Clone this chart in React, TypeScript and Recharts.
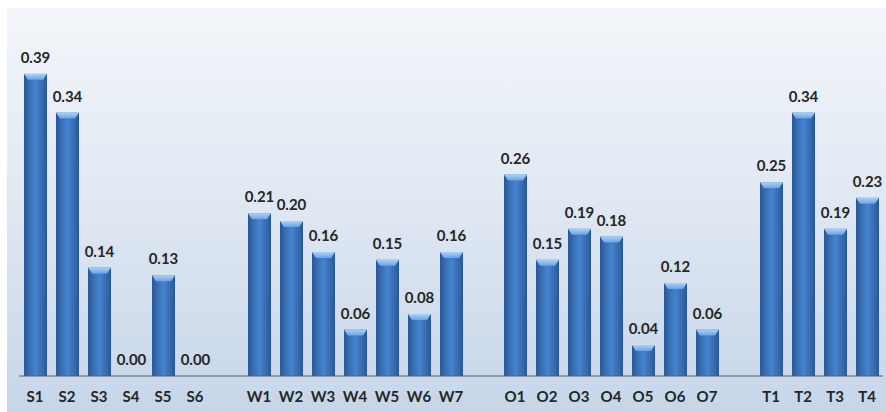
import React from "react";
import { BarChart, Bar, XAxis, YAxis, LabelList } from "recharts";

const sCats = ["S1", "S2", "S3", "S4", "S5", "S6"];
const sVals = [0.39, 0.34, 0.14, 0.0, 0.13, 0.0];
const wCats = ["W1", "W2", "W3", "W4", "W5", "W6", "W7"];
const wVals = [0.21, 0.2, 0.16, 0.06, 0.15, 0.08, 0.16];
const oCats = ["O1", "O2", "O3", "O4", "O5", "O6", "O7"];
const oVals = [0.26, 0.15, 0.19, 0.18, 0.04, 0.12, 0.06];
const tCats = ["T1", "T2", "T3", "T4"];
const tVals = [0.25, 0.34, 0.19, 0.23];

const groups = [
  { cats: sCats, vals: sVals },
  { cats: wCats, vals: wVals },
  { cats: oCats, vals: oVals },
  { cats: tCats, vals: tVals },
];

// one empty slot between groups
const data: { key: string; name: string; value: number | null }[] = [];
groups.forEach((g, gi) => {
  if (gi > 0) data.push({ key: `gap${gi}`, name: "", value: null });
  g.cats.forEach((c, i) => data.push({ key: c, name: c, value: g.vals[i] }));
});

const FONT = "Lato, 'Open Sans', sans-serif";

const CylBar = (props: any) => {
  const { x, y, width, height } = props;
  if (height == null || height <= 0) return null;
  const bev = Math.min(6, height);
  return (
    <g>
      <rect x={x} y={y} width={width} height={height} fill="url(#barBody)" />
      <polygon
        points={`${x},${y} ${x + width},${y} ${x + width - 4},${y + bev} ${x + 4},${y + bev}`}
        fill="url(#barTop)"
      />
    </g>
  );
};

const tickLabel = (props: any) => {
  const { x, y, index } = props;
  return (
    <text
      x={x}
      y={y + 18}
      textAnchor="middle"
      fontFamily={FONT}
      fontWeight={700}
      fontSize={15}
      fill="#262626"
    >
      {data[index]?.name ?? ""}
    </text>
  );
};

export default function App() {
  return (
    <div
      style={{
        position: "absolute",
        left: 0,
        top: 0,
        width: 886,
        height: 412,
        background: "#ffffff",
      }}
    >
      <div
        style={{
          position: "absolute",
          left: 7,
          top: 8,
          width: 879,
          height: 404,
          background: "linear-gradient(to bottom, #f3f6fa 0%, #e1e9f3 45%, #c6d6e9 100%)",
        }}
      />
      <BarChart
        width={886}
        height={412}
        data={data}
        margin={{ top: 8, right: 3, bottom: 0, left: 19 }}
        barSize={23}
        style={{ position: "absolute", left: 0, top: 0 }}
      >
        <defs>
          <linearGradient id="barBody" x1="0" y1="0" x2="1" y2="0">
            <stop offset="0%" stopColor="#2a5694" />
            <stop offset="18%" stopColor="#3469ae" />
            <stop offset="50%" stopColor="#4683d0" />
            <stop offset="82%" stopColor="#3469ae" />
            <stop offset="100%" stopColor="#2a5694" />
          </linearGradient>
          <linearGradient id="barTop" x1="0" y1="0" x2="0" y2="1">
            <stop offset="0%" stopColor="#a9d2f7" />
            <stop offset="100%" stopColor="#6aa3e4" />
          </linearGradient>
        </defs>
        <XAxis
          dataKey="key"
          tick={tickLabel}
          tickLine={false}
          axisLine={{ stroke: "#5a5a5a", strokeWidth: 1 }}
          height={36}
          interval={0}
        />
        <YAxis hide domain={[0, 0.475]} />
        <Bar dataKey="value" shape={CylBar} isAnimationActive={false}>
          <LabelList
            dataKey="value"
            position="top"
            offset={11}
            formatter={(v: any) => (v == null ? "" : Number(v).toFixed(2))}
            style={{ fontFamily: FONT, fontWeight: 700, fontSize: 15, fill: "#262626" }}
          />
        </Bar>
      </BarChart>
    </div>
  );
}
